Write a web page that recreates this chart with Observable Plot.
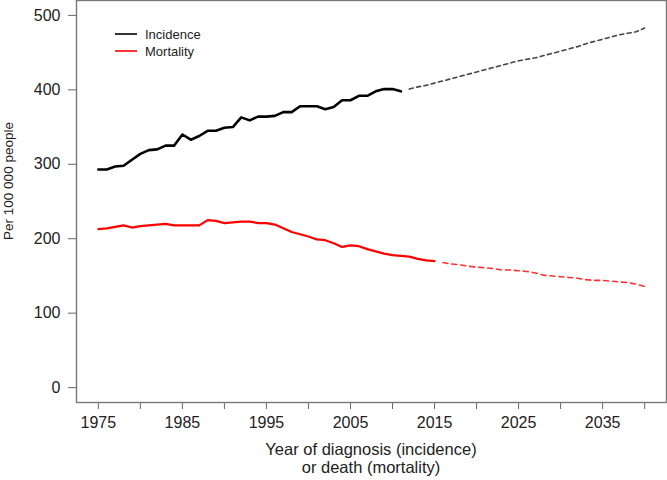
<!DOCTYPE html>
<html>
<head>
<meta charset="utf-8">
<script src="https://cdn.jsdelivr.net/npm/d3@7"></script>
<script src="https://cdn.jsdelivr.net/npm/@observablehq/plot@0.6"></script>
<style>
  html, body { margin: 0; padding: 0; background: #fff; }
  #chart svg { display: block; font-family: "Liberation Sans", Arial, sans-serif; }
</style>
</head>
<body>
<div id="chart"></div>
<script>
// ---- data ----
const incidenceYears = d3.range(1975, 2012);
const incidence = [293,293,297,298,306,314,319,320,325,325,340,333,338,345,345,349,350,363,359,364,364,365,370,370,378,378,378,374,377,386,386,392,392,398,401,401,398];
const incidenceProjYears = d3.range(2012, 2041);
const incidenceProj = [401,404,406,409,412,415,418,421,424,427,430,433,436,439,441,443,446,449,452,455,458,462,465,468,471,474,476,478,483];

const mortalityYears = d3.range(1975, 2016);
const mortality = [213,214,216,218,215,217,218,219,220,218,218,218,218,225,224,221,222,223,223,221,221,219,214,209,206,203,199,198,194,189,191,190,186,183,180,178,177,176,173,171,170];
const mortalityProjYears = d3.range(2016, 2041);
const mortalityProj = [168,166,165,163,162,161,160,158,158,157,156,154,151,150,149,148,147,145,144,144,143,142,141,139,136];

const xTicks = d3.range(1975, 2041, 5);
const xLabelTicks = [1975, 1985, 1995, 2005, 2015, 2025, 2035];
const yTicks = [0, 100, 200, 300, 400, 500];
const seriesNames = ["Incidence", "Mortality"];
const seriesColors = ["#000000", "#ff0000"];
const xTitle = ["Year of diagnosis (incidence)", "or death (mortality)"];
const yTitle = "Per 100 000 people";

const toRows = (years, vals) => years.map((y, i) => ({year: y, value: vals[i]}));
const incObs = toRows(incidenceYears, incidence);
const incPrj = toRows(incidenceProjYears, incidenceProj);
const morObs = toRows(mortalityYears, mortality);
const morPrj = toRows(mortalityProjYears, mortalityProj);

const W = 667, H = 480, ML = 76, MR = 1, MT = 0, MB = 78;

const plot = Plot.plot({
  width: W,
  height: H,
  marginLeft: ML,
  marginRight: MR,
  marginTop: MT,
  marginBottom: MB,
  style: {fontFamily: "'Liberation Sans', Arial, sans-serif", color: "#222", background: "#fff"},
  x: {domain: [1972.4, 2042.6]},
  y: {domain: [-20, 520]},
  marks: [
    Plot.axisX({ticks: xTicks, tickSize: 7, tickPadding: 7, fontSize: 16, stroke: "#666",
      tickFormat: d => xLabelTicks.includes(d) ? String(d) : "", label: null}),
    Plot.axisY({ticks: yTicks, tickSize: 8, tickPadding: 8, fontSize: 16, stroke: "#666",
      tickFormat: d => String(d), label: null}),
    Plot.line(incPrj, {x: "year", y: "value", stroke: "#444", strokeWidth: 1.6, strokeDasharray: "4,3.5"}),
    Plot.line(morPrj, {x: "year", y: "value", stroke: "#ff3030", strokeWidth: 1.6, strokeDasharray: "5,4"}),
    Plot.line(incObs, {x: "year", y: "value", stroke: seriesColors[0], strokeWidth: 2.6}),
    Plot.line(morObs, {x: "year", y: "value", stroke: seriesColors[1], strokeWidth: 2.2}),
    Plot.frame({stroke: "#777", strokeWidth: 1.4})
  ]
});

document.getElementById("chart").appendChild(plot);

// ---- annotations (titles and legend) ----
const svg = d3.select(plot);
const cx = ML + (W - ML - MR) / 2;
svg.append("text")
  .attr("x", cx).attr("y", 455)
  .attr("text-anchor", "middle").attr("font-size", 16.5).attr("fill", "#222")
  .text(xTitle[0]);
svg.append("text")
  .attr("x", cx).attr("y", 473)
  .attr("text-anchor", "middle").attr("font-size", 16.5).attr("fill", "#222")
  .text(xTitle[1]);
svg.append("text")
  .attr("transform", "translate(13,181) rotate(-90)")
  .attr("text-anchor", "middle").attr("font-size", 13.5).attr("fill", "#222")
  .text(yTitle);

const legend = svg.append("g");
seriesNames.forEach((name, i) => {
  const y = 34 + i * 17;
  legend.append("line")
    .attr("x1", 115).attr("x2", 137).attr("y1", y).attr("y2", y)
    .attr("stroke", seriesColors[i]).attr("stroke-width", 1.6);
  legend.append("text")
    .attr("x", 145).attr("y", y + 4.5)
    .attr("text-anchor", "start")
    .attr("font-size", 13).attr("fill", "#222")
    .text(name);
});
</script>
</body>
</html>
